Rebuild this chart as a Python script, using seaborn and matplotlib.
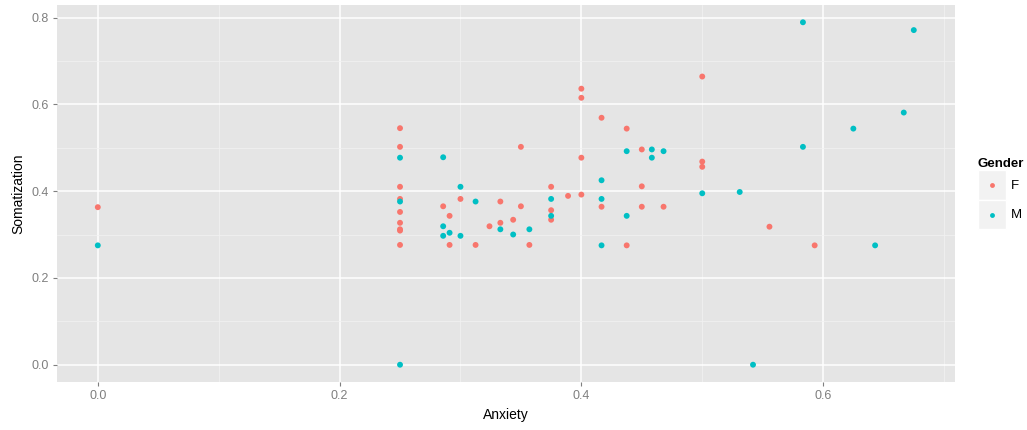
import pandas as pd
import numpy as np
import matplotlib
matplotlib.use("Agg")
import matplotlib.pyplot as plt
import seaborn as sns
from matplotlib.ticker import MultipleLocator
from matplotlib.legend_handler import HandlerBase
from matplotlib.patches import Rectangle
from matplotlib.lines import Line2D

# anxiety / somatization scores
F_ANX = [0.0,
         0.25, 0.25, 0.25, 0.25, 0.25, 0.25, 0.25, 0.25, 0.25,
         0.2857, 0.291, 0.291, 0.30, 0.3125, 0.324, 0.333, 0.333, 0.3436,
         0.35, 0.35, 0.357, 0.375, 0.375, 0.375, 0.389,
         0.40, 0.40, 0.40, 0.40, 0.4167, 0.4167, 0.4375, 0.4375,
         0.45, 0.45, 0.45, 0.468, 0.50, 0.50, 0.50, 0.5556, 0.593]
F_SOM = [0.363,
         0.545, 0.502, 0.41, 0.382, 0.352, 0.327, 0.312, 0.309, 0.276,
         0.365, 0.343, 0.276, 0.382, 0.276, 0.319, 0.376, 0.327, 0.334,
         0.502, 0.365, 0.276, 0.41, 0.356, 0.334, 0.389,
         0.636, 0.615, 0.477, 0.392, 0.569, 0.364, 0.544, 0.275,
         0.496, 0.411, 0.364, 0.364, 0.664, 0.468, 0.456, 0.318, 0.275]

M_ANX = [0.0,
         0.25, 0.25, 0.25, 0.2857, 0.2857, 0.2857, 0.291, 0.30, 0.30,
         0.3125, 0.333, 0.3436, 0.357, 0.375, 0.375,
         0.4167, 0.4167, 0.4167, 0.4375, 0.4375, 0.4583, 0.4583, 0.468,
         0.50, 0.531, 0.542, 0.5833, 0.5833, 0.625, 0.643, 0.6667, 0.675]
M_SOM = [0.275,
         0.477, 0.376, 0.0, 0.478, 0.319, 0.297, 0.304, 0.41, 0.297,
         0.376, 0.312, 0.300, 0.312, 0.382, 0.343,
         0.425, 0.382, 0.275, 0.492, 0.343, 0.496, 0.477, 0.492,
         0.395, 0.398, 0.0, 0.789, 0.502, 0.544, 0.275, 0.581, 0.771]

GENDERS = ["F", "M"]
GENDER_COLORS = {"F": "#F8766D", "M": "#00BFC4"}

df = pd.DataFrame({
    "Anxiety": F_ANX + M_ANX,
    "Somatization": F_SOM + M_SOM,
    "Gender": ["F"] * len(F_ANX) + ["M"] * len(M_ANX),
})


class KeyHandler(HandlerBase):
    """ggplot-like legend key: grey square with the point in the middle."""
    def create_artists(self, legend, orig_handle, xdescent, ydescent,
                       width, height, fontsize, trans):
        bg = Rectangle((-xdescent, -ydescent), width, height,
                       facecolor="#F2F2F2", edgecolor="white", linewidth=1.0,
                       transform=trans)
        dot = Line2D([-xdescent + width / 2], [-ydescent + height / 2],
                     marker="o", markersize=3.5, linestyle="none",
                     markerfacecolor=orig_handle.get_markerfacecolor(),
                     markeredgewidth=0, transform=trans)
        return [bg, dot]


plt.rcParams["font.family"] = ["Liberation Sans", "DejaVu Sans"]

fig = plt.figure(figsize=(10.27, 4.30), dpi=100)
ax = fig.add_axes([0.0555, 0.112, 0.874, 0.876])
ax.set_facecolor("#E5E5E5")

sns.scatterplot(data=df, x="Anxiety", y="Somatization", hue="Gender",
                palette=GENDER_COLORS, s=18, linewidth=0, ax=ax, zorder=3,
                legend=False)

# ggplot-style 5% expansion
xr = max(df.Anxiety) - min(df.Anxiety)
yr = max(df.Somatization) - min(df.Somatization)
ax.set_xlim(min(df.Anxiety) - 0.05 * xr, max(df.Anxiety) + 0.05 * xr)
ax.set_ylim(min(df.Somatization) - 0.05 * yr, max(df.Somatization) + 0.05 * yr)

ax.xaxis.set_major_locator(MultipleLocator(0.2))
ax.yaxis.set_major_locator(MultipleLocator(0.2))
ax.xaxis.set_minor_locator(MultipleLocator(0.1))
ax.yaxis.set_minor_locator(MultipleLocator(0.1))
ax.grid(which="major", color="white", linewidth=1.1, zorder=1)
ax.grid(which="minor", color="#F2F2F2", linewidth=0.5, zorder=1)
ax.set_axisbelow(True)
for sp in ax.spines.values():
    sp.set_visible(False)
ax.tick_params(which="major", length=3, color="#7F7F7F", labelcolor="#7F7F7F",
               labelsize=9, pad=3)
ax.tick_params(which="minor", length=0)
ax.set_xlabel("Anxiety", fontsize=10, labelpad=4)
ax.set_ylabel("Somatization", fontsize=10, labelpad=4)

handles = [Line2D([], [], marker="o", linestyle="none",
                  markerfacecolor=GENDER_COLORS[g]) for g in GENDERS]
leg = fig.legend(handles, GENDERS, title="Gender", loc="upper left",
                 bbox_to_anchor=(0.952, 0.633), frameon=False,
                 fontsize=9.5, title_fontsize=9.5,
                 handler_map={Line2D: KeyHandler()},
                 handlelength=2.15, handleheight=3.1, labelspacing=0,
                 handletextpad=0.35, borderpad=0, borderaxespad=0)
leg.get_title().set_fontweight("bold")
leg._legend_box.align = "left"

fig.savefig("out.png", dpi=100)
